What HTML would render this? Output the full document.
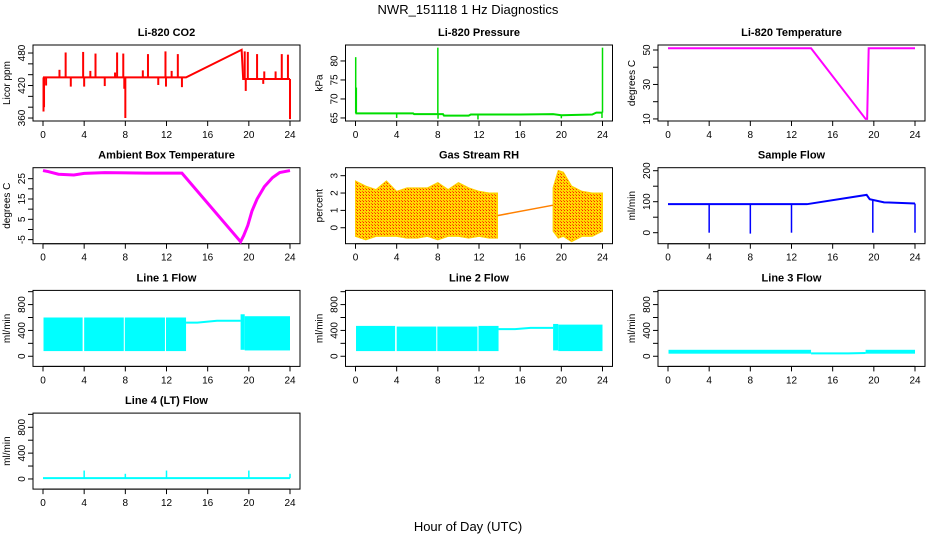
<!DOCTYPE html>
<html><head><meta charset="utf-8"><style>
body{margin:0;background:#fff}
svg{display:block;font-family:"Liberation Sans",sans-serif}
</style></head><body>
<svg id="c" width="936" height="540" xmlns="http://www.w3.org/2000/svg">
<defs>
<pattern id="rhpat" width="3" height="3" patternUnits="userSpaceOnUse">
<rect width="3" height="3" fill="#ffd800"/><rect x="0" y="0" width="1" height="1" fill="#ff2000"/><rect x="2" y="2" width="1" height="1" fill="#ff6000"/>
</pattern>
</defs>
<text x="468" y="14" text-anchor="middle" font-size="13">NWR_151118  1 Hz Diagnostics</text>
<text x="468" y="531" text-anchor="middle" font-size="13">Hour of Day (UTC)</text>
</svg>
<script>
// ---- data ----
const xTicks = [0,4,8,12,16,20,24];
const co2Line = [[0,435],[13.9,435],[19.3,486],[19.45,432],[24,432]];
const co2Spikes = [[0.05,372],[0.1,380],[2.2,481],[3.9,482],[4.0,418],[5.1,479],[7.2,481],[7.8,479],[7.9,414],[8.0,360],[10.2,478],[11.9,483],[11.95,418],[13.1,478],[19.6,483],[19.7,410],[19.9,482],[20.8,478],[23.2,478],[23.8,477],[24,358],[1.6,449],[4.6,447],[7.0,444],[9.7,448],[12.5,447],[21.5,446],[22.6,446],[0.3,420],[2.7,418],[6.0,419],[11.2,421],[13.5,417],[21.4,423]];
const presLine = [[0,66.2],[5.6,66.2],[5.7,66],[8.5,66],[8.6,65.6],[11,65.6],[11.2,65.9],[16,65.9],[19.2,66],[20,65.7],[23,65.9],[23.4,66.4],[24,66.4]];
const presSpikes = [[0.02,81],[0.08,73],[4,65],[8.0,83.5],[8.02,64.8],[11.9,64.6],[20,64.9],[24,83.5],[23.95,65]];
const ltempLine = [[0,51],[13.9,51],[19.2,10],[19.35,10],[19.5,51],[24,51]];
const ambLine = [[0,29],[0.5,28.5],[1.5,27.2],[3,26.8],[4,27.6],[6,28],[10,27.7],[13.5,27.7],[19.2,-6],[19.5,-3],[19.9,2],[20.3,9],[20.8,15],[21.5,21],[22.3,25.5],[23,28],[24,29]];
const rhTimesA = [0,1,2,3,4,5,6,7,8,9,10,11,12,13,13.8];
const rhHighA = [2.7,2.4,2.2,2.7,2.1,2.3,2.3,2.3,2.6,2.2,2.6,2.3,2.1,2.0,2.0];
const rhLowA = [-0.5,-0.7,-0.5,-0.5,-0.5,-0.6,-0.6,-0.5,-0.7,-0.5,-0.5,-0.6,-0.5,-0.6,-0.6];
const rhTimesB = [19.2,19.7,20.2,21,22,23,24];
const rhHighB = [2.3,3.3,3.2,2.4,2.1,2.0,2.0];
const rhLowB = [-0.2,-0.6,-0.5,-0.8,-0.5,-0.5,-0.2];
const rhBridge = [[13.8,0.7],[19.2,1.3]];
const flowLine = [[0,92],[13.5,92],[19.3,122],[19.6,108],[21,98],[24,94]];
const flowDips = [[4,0],[8,-3],[12,0],[19.9,0],[24,0]];
const l1Blocks = [[0.05,3.85,80,600],[4.0,7.85,80,600],[7.95,11.85,80,600],[11.95,13.9,80,600],[19.2,19.6,100,650],[19.6,24,90,620]];
const l1Bridge = [[13.9,520],[15,520],[16.9,550],[19.2,550]];
const l2Blocks = [[0.05,3.85,80,470],[4.0,7.85,80,460],[7.95,11.85,80,460],[11.95,13.9,80,470],[19.2,19.7,90,500],[19.7,24,80,490]];
const l2Bridge = [[13.9,420],[15.5,420],[17,440],[19.2,440]];
const l3Blocks = [[0.05,13.9,40,100],[19.2,24,40,100]];
const l3Bridge = [[13.9,45],[17.5,45],[19.2,50]];
const l4Line = [[0,12],[24,12]];
const l4Spikes = [[4,130],[8,80],[12,130],[20,130],[24,80]];

// ---- layout ----
const svg = document.getElementById('c');
const NS = 'http://www.w3.org/2000/svg';
function el(tag, attrs, parent){const e=document.createElementNS(NS,tag);for(const k in attrs)e.setAttribute(k,attrs[k]);(parent||svg).appendChild(e);return e;}
function box(col,row){const l=33+312.5*col,r=300+312.5*col,t=45+122.7*row,b=121+122.7*row;return {l,r,t,b};}
function makePanel(col,row,title,ylab,lo,hi,yTicks,yLabels,name){
  const B=box(col,row);
  const g=el('g',{});
  
  
  const P={B,g,lo,hi,
    sx:t=>B.l+10+(t/24)*(B.r-B.l-20),
    sy:v=>B.b-(v-lo)/(hi-lo)*(B.b-B.t)};
  const tt=el('text',{x:(B.l+B.r)/2,y:B.t-9,'text-anchor':'middle','font-size':11,'font-weight':'bold'},g);
  tt.textContent=title;
  
  
  const yl=el('text',{transform:`translate(${B.l-23},${(B.t+B.b)/2}) rotate(-90)`,'text-anchor':'middle','font-size':10},g);
  yl.textContent=ylab;
  
  
  el('line',{x1:P.sx(0),x2:P.sx(24),y1:B.b,y2:B.b,stroke:'#000'},g);
  xTicks.forEach(t=>{
    el('line',{x1:P.sx(t),x2:P.sx(t),y1:B.b,y2:B.b+5,stroke:'#000'},g);
    const tx=el('text',{x:P.sx(t),y:B.b+17,'text-anchor':'middle','font-size':10},g);tx.textContent=t;
    
    
  });
  el('line',{x1:B.l,x2:B.l,y1:P.sy(yTicks[0]),y2:P.sy(yTicks[yTicks.length-1]),stroke:'#000'},g);
  yTicks.forEach(v=>{
    el('line',{x1:B.l-5,x2:B.l,y1:P.sy(v),y2:P.sy(v),stroke:'#000'},g);
    if(yLabels.includes(v)){
      const ty=el('text',{transform:`translate(${B.l-8},${P.sy(v)}) rotate(-90)`,'text-anchor':'middle','font-size':10},g);
      ty.textContent=v;
      
      
    }
  });
  el('rect',{x:B.l,y:B.t,width:B.r-B.l,height:B.b-B.t,fill:'none',stroke:'#000'},g);
  return P;
}
function line(P,pts,color,w,name){
  const p=el('polyline',{points:pts.map(d=>P.sx(d[0])+','+P.sy(d[1])).join(' '),fill:'none',stroke:color,'stroke-width':w},P.g);
  
  
}
function spikes(P,base,sp,color,w,name){
  sp.forEach(d=>{
    const s=el('line',{x1:P.sx(d[0]),x2:P.sx(d[0]),y1:P.sy(base(d[0])),y2:P.sy(d[1]),stroke:color,'stroke-width':w},P.g);
    
    
  });
}
function interp(pts){return t=>{for(let i=1;i<pts.length;i++){if(t<=pts[i][0]){const a=pts[i-1],b=pts[i];return a[1]+(b[1]-a[1])*(t-a[0])/((b[0]-a[0])||1);}}return pts[pts.length-1][1];};}
function blocks(P,bl,color,name){
  bl.forEach(d=>{
    const r=el('rect',{x:P.sx(d[0]),y:P.sy(d[3]),width:P.sx(d[1])-P.sx(d[0]),height:P.sy(d[2])-P.sy(d[3]),fill:color},P.g);
    
    
  });
}
function band(P,ts,hi,lo,fill,name){
  const up=ts.map((t,i)=>P.sx(t)+','+P.sy(hi[i]));
  const dn=ts.map((t,i)=>P.sx(t)+','+P.sy(lo[i])).reverse();
  const p=el('polygon',{points:up.concat(dn).join(' '),fill:fill,stroke:'#ffd000','stroke-width':1},P.g);
  
  
}

let P=makePanel(0,0,'Li-820 CO2','Licor ppm',354.5,494.8,[360,380,400,420,440,460,480],[360,420,480],'co2');
spikes(P,interp(co2Line),co2Spikes,'#ff0000',2,'co2-spike');
line(P,co2Line,'#ff0000',2,'co2-line');
P=makePanel(1,0,'Li-820 Pressure','kPa',64.2,84.2,[65,70,75,80],[65,70,75,80],'pressure');
spikes(P,interp(presLine),presSpikes,'#00dd00',1.5,'pressure-spike');
line(P,presLine,'#00dd00',2,'pressure-line');
P=makePanel(2,0,'Li-820 Temperature','degrees C',8.8,52.9,[10,20,30,40,50],[10,30,50],'li-temp');
line(P,ltempLine,'#ff00ff',2,'li-temp-line');
P=makePanel(0,1,'Ambient Box Temperature','degrees C',-7,30.4,[-5,0,5,10,15,20,25],[-5,5,15,25],'ambient');
line(P,ambLine,'#ff00ff',3,'ambient-line');
P=makePanel(1,1,'Gas Stream RH','percent',-0.92,3.46,[0,1,2,3],[0,1,2,3],'rh');
band(P,rhTimesA,rhHighA,rhLowA,'url(#rhpat)','rh-band-a');
band(P,rhTimesB,rhHighB,rhLowB,'url(#rhpat)','rh-band-b');
line(P,rhBridge,'#ff8000',1.5,'rh-bridge');
P=makePanel(2,1,'Sample Flow','ml/min',-35.5,209.7,[0,50,100,150,200],[0,100,200],'sample-flow');
spikes(P,interp(flowLine),flowDips,'#0000ff',1.5,'sample-flow-dip');
line(P,flowLine,'#0000ff',2,'sample-flow-line');
const fT=[0,200,400,600,800,1000], fL=[0,400,800];
P=makePanel(0,2,'Line 1 Flow','ml/min',-157,1019.6,fT,fL,'line1');
blocks(P,l1Blocks,'#00ffff','line1-block');line(P,l1Bridge,'#00ffff',2,'line1-bridge');
P=makePanel(1,2,'Line 2 Flow','ml/min',-157,1019.6,fT,fL,'line2');
blocks(P,l2Blocks,'#00ffff','line2-block');line(P,l2Bridge,'#00ffff',2,'line2-bridge');
P=makePanel(2,2,'Line 3 Flow','ml/min',-157,1019.6,fT,fL,'line3');
blocks(P,l3Blocks,'#00ffff','line3-block');line(P,l3Bridge,'#00ffff',2,'line3-bridge');
P=makePanel(0,3,'Line 4 (LT) Flow','ml/min',-157,1019.6,fT,fL,'line4');
spikes(P,interp(l4Line),l4Spikes,'#00ffff',1.5,'line4-spike');
line(P,l4Line,'#00ffff',2,'line4-line');
</script>
</body></html>
